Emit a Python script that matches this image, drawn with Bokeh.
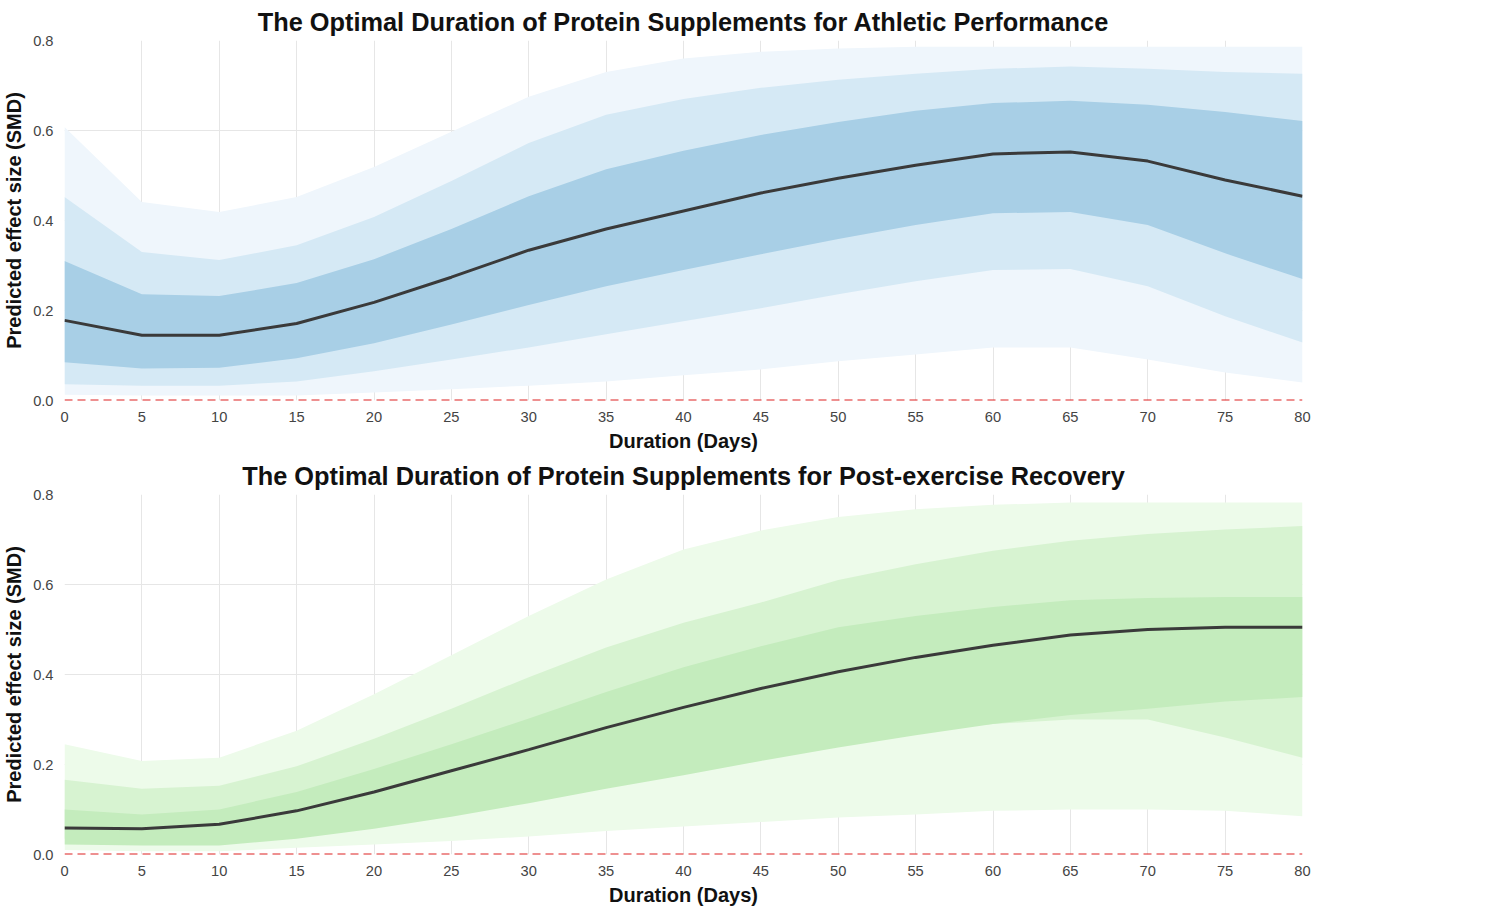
from bokeh.plotting import figure
from bokeh.layouts import column
from bokeh.models import Legend, LegendItem, Span, CustomJSTickFormatter
from bokeh.embed import file_html
from bokeh.resources import INLINE

days = [0,5,10,15,20,25,30,35,40,45,50,55,60,65,70,75,80]

a_med = [0.178,0.145,0.145,0.171,0.218,0.274,0.334,0.381,0.421,0.461,0.494,0.523,0.548,0.552,0.532,0.49,0.454]
a_50l = [0.085,0.071,0.073,0.094,0.127,0.169,0.212,0.254,0.29,0.325,0.359,0.39,0.416,0.419,0.39,0.327,0.27]
a_50u = [0.31,0.236,0.232,0.261,0.314,0.381,0.454,0.514,0.555,0.59,0.619,0.644,0.661,0.666,0.657,0.641,0.621]
a_80l = [0.036,0.033,0.033,0.042,0.065,0.091,0.118,0.147,0.176,0.205,0.236,0.265,0.29,0.292,0.254,0.187,0.129]
a_80u = [0.452,0.33,0.312,0.345,0.408,0.488,0.572,0.635,0.67,0.695,0.713,0.726,0.737,0.742,0.737,0.73,0.726]
a_95l = [0.013,0.011,0.011,0.011,0.018,0.025,0.033,0.042,0.056,0.069,0.087,0.102,0.118,0.118,0.091,0.062,0.04]
a_95u = [0.608,0.441,0.419,0.452,0.519,0.597,0.675,0.73,0.76,0.775,0.782,0.786,0.786,0.786,0.786,0.786,0.786]

r_med = [0.059,0.057,0.067,0.097,0.139,0.186,0.233,0.282,0.327,0.369,0.406,0.438,0.465,0.488,0.5,0.505,0.505]
r_50l = [0.022,0.02,0.02,0.035,0.057,0.084,0.114,0.146,0.176,0.208,0.238,0.265,0.29,0.31,0.324,0.34,0.35]
r_50u = [0.10,0.089,0.10,0.139,0.19,0.245,0.302,0.361,0.416,0.463,0.505,0.53,0.55,0.565,0.57,0.572,0.572]
r_80l = [0.035,0.032,0.037,0.057,0.082,0.109,0.139,0.17,0.203,0.233,0.257,0.275,0.29,0.3,0.3,0.26,0.215]
r_80u = [0.166,0.146,0.153,0.196,0.257,0.324,0.394,0.46,0.515,0.56,0.61,0.645,0.675,0.697,0.712,0.722,0.73]
r_95l = [0.01,0.007,0.007,0.015,0.022,0.03,0.04,0.052,0.062,0.072,0.082,0.089,0.097,0.1,0.1,0.097,0.085]
r_95u = [0.245,0.208,0.215,0.275,0.356,0.443,0.53,0.611,0.678,0.72,0.75,0.767,0.777,0.782,0.782,0.782,0.782]

labels = ["0.95", "0.8", "0.5"]
FONT = "Liberation Sans"

def panel(title, med, bands, colors):
    p = figure(frame_width=1238, frame_height=360, x_range=(0, 80), y_range=(0, 0.8),
               output_backend="svg", toolbar_location=None, title=title,
               min_border_left=5, min_border_right=5, min_border_top=5, min_border_bottom=5)
    p.title.align = "center"; p.title.text_font = FONT
    p.title.text_font_size = "19pt"; p.title.text_font_style = "bold"
    p.title.text_color = "#111111"
    p.outline_line_color = None
    items = []
    for (lo, hi), c, lab in zip(bands, colors, labels):
        r = p.varea(x=days, y1=lo, y2=hi, fill_color=c, fill_alpha=1)
        items.append(LegendItem(label=lab, renderers=[r]))
    p.line(days, med, line_color="#3a3a3a", line_width=3)
    p.add_layout(Span(location=0, dimension="width", line_color="#dd2222",
                      line_dash="8 5", line_width=2))
    p.xaxis.ticker = list(range(0, 81, 5))
    p.yaxis.ticker = [0, 0.2, 0.4, 0.6, 0.8]
    p.yaxis.formatter = CustomJSTickFormatter(code="return tick.toFixed(1);")
    for ax in (p.xaxis, p.yaxis):
        ax.axis_line_color = None; ax.major_tick_line_color = None
        ax.minor_tick_line_color = None
        ax.major_label_text_font = FONT; ax.major_label_text_font_size = "11pt"
        ax.major_label_text_color = "#444444"
        ax.axis_label_text_font = FONT; ax.axis_label_text_font_size = "15pt"
        ax.axis_label_text_font_style = "bold"
        ax.axis_label_text_color = "#111111"
    p.xaxis.axis_label = "Duration (Days)"
    p.yaxis.axis_label = "Predicted effect size (SMD)"
    p.grid.grid_line_color = "#e6e6e6"
    p.grid.minor_grid_line_color = "#f2f2f2"
    p.xgrid.ticker = list(range(0, 81, 5))
    leg = Legend(items=items, title="Credible Interval", location="center",
                 border_line_color=None, title_text_font=FONT,
                 title_text_font_size="13pt", title_text_font_style="bold",
                 label_text_font=FONT, label_text_font_size="11pt",
                 glyph_width=24, glyph_height=22, spacing=0, margin=5, padding=5)
    p.add_layout(leg, "right")
    return p

p1 = panel("The Optimal Duration of Protein Supplements for Athletic Performance", a_med,
           [(a_95l, a_95u), (a_80l, a_80u), (a_50l, a_50u)],
           ["#eff6fc", "#d5e9f5", "#a8cfe6"])
p2 = panel("The Optimal Duration of Protein Supplements for Post-exercise Recovery", r_med,
           [(r_95l, r_95u), (r_80l, r_80u), (r_50l, r_50u)],
           ["#edfbea", "#d7f3d1", "#c4ecbd"])
p = column(p1, p2)
open("out.html", "w").write(file_html(p, INLINE))
